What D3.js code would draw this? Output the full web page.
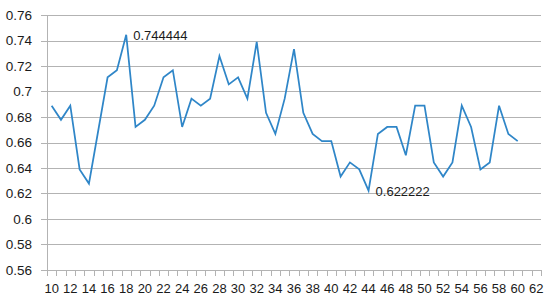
<!DOCTYPE html>
<html>
<head>
<meta charset="utf-8">
<script src="https://cdn.jsdelivr.net/npm/d3@7"></script>
<style>
  html, body { margin: 0; padding: 0; background: #fff; }
  svg text { font-family: "Liberation Sans", Arial, sans-serif; fill: #1a1a1a; }
</style>
</head>
<body>
<svg id="chart" width="550" height="303"></svg>
<script>
/************** Data **************/
const xValues = d3.range(10, 61);   // categories 10..60
const yValues = [
  0.6889, 0.6778, 0.6889, 0.6389, 0.6278, 0.6694, 0.7111, 0.7167, 0.744444, 0.6722,
  0.6778, 0.6889, 0.7111, 0.7167, 0.6722, 0.6944, 0.6889, 0.6944, 0.7278, 0.7056,
  0.7111, 0.6944, 0.7389, 0.6833, 0.6667, 0.6944, 0.7333, 0.6833, 0.6667, 0.6611,
  0.6611, 0.6333, 0.6444, 0.6389, 0.622222, 0.6667, 0.6722, 0.6722, 0.65, 0.6889,
  0.6889, 0.6444, 0.6333, 0.6444, 0.6889, 0.6722, 0.6389, 0.6444, 0.6889, 0.6667,
  0.6611
];
const xTickLabels = d3.range(10, 63, 2);
const yTickValues = d3.range(0.56, 0.7601, 0.02);
const callouts = [
  { x: 18, label: "0.744444" },
  { x: 44, label: "0.622222" }
];

const data = xValues.map((x, i) => ({ x, y: yValues[i] }));

/************** Layout **************/
const plotL = 47, plotR = 541, plotT = 15, plotB = 270;
const svg = d3.select("#chart");

// category axis: each category owns a slot, ticks sit between slots
const x = d3.scaleLinear().domain([9.5, 62.5]).range([plotL, plotR]);
const y = d3.scaleLinear().domain([0.56, 0.76]).range([plotB, plotT]);

const gridColor = "#b3b3b3";
const lineColor = "#2f86c8";

// horizontal gridlines
svg.append("g")
  .selectAll("line")
  .data(yTickValues)
  .join("line")
    .attr("x1", plotL - 6).attr("x2", plotR)
    .attr("y1", d => Math.round(y(d)) + 0.5).attr("y2", d => Math.round(y(d)) + 0.5)
    .attr("stroke", gridColor).attr("stroke-width", 1);

// y axis line
svg.append("line")
  .attr("x1", plotL + 0.5).attr("x2", plotL + 0.5)
  .attr("y1", plotT).attr("y2", plotB + 1)
  .attr("stroke", gridColor);

// y labels
svg.append("g")
  .selectAll("text")
  .data(yTickValues)
  .join("text")
    .attr("x", 32).attr("y", d => y(d))
    .attr("text-anchor", "end").attr("dominant-baseline", "central")
    .style("font-size", "13.5px")
    .text(d => d3.format(".2~f")(d));

// x tick marks between categories
svg.append("g")
  .selectAll("line")
  .data(d3.range(9.5, 63, 1))
  .join("line")
    .attr("x1", d => Math.round(x(d)) + 0.5).attr("x2", d => Math.round(x(d)) + 0.5)
    .attr("y1", plotB).attr("y2", plotB + 6)
    .attr("stroke", gridColor);

// x labels
svg.append("g")
  .selectAll("text")
  .data(xTickLabels)
  .join("text")
    .attr("x", d => x(d)).attr("y", 288)
    .attr("text-anchor", "middle").attr("dominant-baseline", "central")
    .style("font-size", "13px")
    .text(d => d);

// the line
const line = d3.line().x(d => x(d.x)).y(d => y(d.y));
svg.append("path")
  .datum(data)
  .attr("d", line)
  .attr("fill", "none")
  .attr("stroke", lineColor)
  .attr("stroke-width", 1.75)
  .attr("stroke-linejoin", "miter");

// data labels
svg.append("g")
  .selectAll("text")
  .data(callouts)
  .join("text")
    .attr("x", d => x(d.x) + 7)
    .attr("y", d => y(yValues[xValues.indexOf(d.x)]) + 1)
    .attr("dominant-baseline", "central")
    .style("font-size", "13px")
    .text(d => d.label);
</script>
</body>
</html>
